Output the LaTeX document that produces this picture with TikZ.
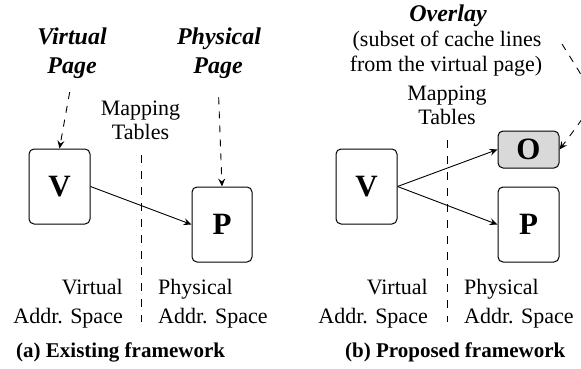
\documentclass[tikz,border=0pt]{standalone}
\usepackage{fontspec}
\setmainfont{Liberation Serif}
\usetikzlibrary{arrows.meta}
\begin{document}
\begin{tikzpicture}[x=1pt,y=-1pt,
  lbl/.style={inner sep=0pt, font=\fontsize{22}{26}\selectfont},
  head/.style={inner sep=0pt, font=\fontsize{24}{29}\selectfont\bfseries\itshape},
  capt/.style={inner sep=0pt, font=\fontsize{21}{25}\selectfont\bfseries, anchor=base west},
  box/.style={draw, line width=1pt, rounded corners=5pt, inner sep=0pt, font=\fontsize{31}{36}\selectfont\bfseries},
  conn/.style={line width=0.9pt, -{Stealth[length=8pt,width=7pt,inset=3pt]}},
  dconn/.style={conn, dash pattern=on 7pt off 7pt},
  divider/.style={line width=0.9pt, dash pattern=on 7.5pt off 8.5pt}]
\useasboundingbox (0,0) rectangle (581,369);

% ---------- (a) ----------
\node[head, anchor=base] (vp1) at (72,45) {Virtual};
\node[head, anchor=base] (vp2) at (72,74) {Page};
\node[head, anchor=base] (pp1) at (219,45) {Physical};
\node[head, anchor=base] (pp2) at (218,74) {Page};
\node[lbl, anchor=base] (mt1a) at (140.5,115) {Mapping};
\node[lbl, anchor=base] (mt2a) at (140.5,139) {Tables};

\node[box, minimum width=61pt, minimum height=75pt] (Va) at (59.5,186.5) {V};
\node[box, minimum width=60pt, minimum height=75pt] (Pa) at (222,224.5) {P};

\coordinate (da1) at (141,155);
\coordinate (da2) at (141,322);
\draw[divider] (da1) -- (da2);

\draw[dconn, shorten <=13pt] (vp2.south) -- (Va.north);
\draw[dconn, shorten <=18pt] (pp2.south) -- (Pa.north);
\draw[conn] (Va.east) -- (Pa.west);

\node[lbl, anchor=base east] (vsa1) at (123,294) {Virtual};
\node[lbl, anchor=base east] (vsa2) at (123,323) {Addr. Space};
\node[lbl, anchor=base west] (psa1) at (158,294) {Physical};
\node[lbl, anchor=base west] (psa2) at (158,323) {Addr. Space};

\node[capt] (capa) at (16,357) {(a) Existing framework};

% ---------- (b) ----------
\node[head, anchor=base] (ov) at (448,22) {Overlay};
\node[lbl, anchor=base] (ov2) at (447,47) {(subset of cache lines};
\node[lbl, anchor=base] (ov3) at (446,72) {from the virtual page)};
\node[lbl, anchor=base] (mt1b) at (447,100) {Mapping};
\node[lbl, anchor=base] (mt2b) at (447,124) {Tables};

\node[box, minimum width=61pt, minimum height=75pt] (Vb) at (366.5,186.5) {V};
\node[box, fill=black!15, minimum width=61pt, minimum height=37pt] (Ob) at (528.5,149.5) {O};
\node[box, minimum width=61pt, minimum height=75pt] (Pb) at (528.5,224.5) {P};

\coordinate (db1) at (447,140);
\coordinate (db2) at (447,322);
\draw[divider] (db1) -- (db2);

\draw[conn] (Vb.east) -- (Ob.west);
\draw[conn] (Vb.east) -- (Pb.west);

\coordinate (ovs) at (562,44);
\draw[dconn] (ovs) .. controls (598,102) and (600,96) .. (Ob.east);

\node[lbl, anchor=base east] (vsb1) at (428,294) {Virtual};
\node[lbl, anchor=base east] (vsb2) at (428,323) {Addr. Space};
\node[lbl, anchor=base west] (psb1) at (464,294) {Physical};
\node[lbl, anchor=base west] (psb2) at (464,323) {Addr. Space};

\node[capt] (capb) at (345,357) {(b) Proposed framework};
\end{tikzpicture}
\end{document}
